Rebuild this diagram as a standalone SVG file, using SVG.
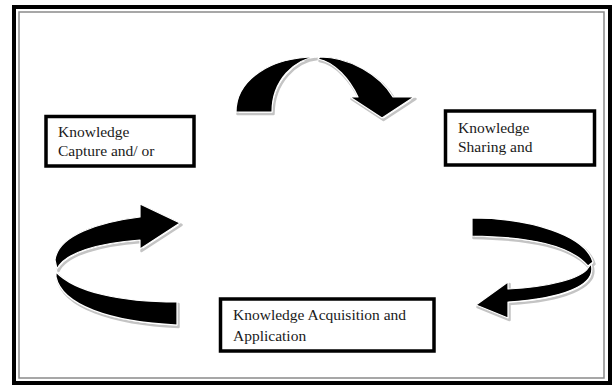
<svg xmlns="http://www.w3.org/2000/svg" width="614" height="385" viewBox="0 0 614 385">
<style>
  .box { fill: #fff; stroke: #000; stroke-width: 3.5; }
  .lbl { font-family: "Liberation Serif", "Times New Roman", serif; font-size: 15.5px; fill: #1a1a1a; }
  .shadow { fill: none; stroke: #c4c4c4; stroke-width: 2.5; stroke-linejoin: round; }
  .arrow { fill: #000; stroke: #fff; stroke-width: 1.2; stroke-linejoin: round; }
</style>
<defs>
  <path id="topL" d="M 236 112 C 236 80, 270 57, 316 57 C 295 59, 272 80, 272 112 Z"/>
  <path id="topR" d="M 320 57 C 350 57, 380 75, 393 97 L 414 97 L 382 118 L 350 97 L 358 97 C 350 80, 335 62, 318 59 Z"/>
  <path id="leftU" d="M 55 260 C 58 235, 100 222, 140 217 L 140 204 L 180 223 L 140 249 L 140 240 C 100 243, 65 252, 57 269 Z"/>
  <path id="leftD" d="M 56 272 C 75 292, 120 302, 177 302 L 177 325 C 110 322, 62 305, 56 277 Z"/>
  <path id="rightU" d="M 472 218 C 530 218, 585 235, 593 262 L 588 266 C 570 245, 530 237, 472 236 Z"/>
  <path id="rightD" d="M 591 264 C 598 286, 560 299, 508 302 L 508 318 L 476 305 L 508 282 L 508 289 C 550 287, 582 278, 588 268 Z"/>
</defs>
<rect x="0" y="0" width="614" height="385" fill="#fff"/>
<rect x="14" y="7" width="596" height="376" fill="none" stroke="#000" stroke-width="4"/>
<rect x="19" y="12" width="585" height="366" fill="none" stroke="#8a8a8a" stroke-width="1.5"/>
<g id="connectors">
  <g transform="translate(1.5,2)">
    <use href="#topL" class="shadow"/><use href="#topR" class="shadow"/>
    <use href="#leftU" class="shadow"/><use href="#leftD" class="shadow"/>
    <use href="#rightU" class="shadow"/><use href="#rightD" class="shadow"/>
  </g>
  <use href="#topL" class="arrow"/><use href="#topR" class="arrow"/>
  <use href="#leftU" class="arrow"/><use href="#leftD" class="arrow"/>
  <use href="#rightU" class="arrow"/><use href="#rightD" class="arrow"/>
</g>
<g id="node-capture">
  <rect class="box" x="46" y="116.5" width="148" height="49.5"/>
  <text class="lbl" x="58" y="137">Knowledge</text>
  <text class="lbl" x="58" y="156">Capture and/ or</text>
</g>
<g id="node-sharing">
  <rect class="box" x="445.5" y="111" width="149" height="54"/>
  <text class="lbl" x="458" y="133">Knowledge</text>
  <text class="lbl" x="458" y="152">Sharing and</text>
</g>
<g id="node-acquisition">
  <rect class="box" x="220.5" y="299" width="213.5" height="52"/>
  <text class="lbl" x="233" y="320">Knowledge Acquisition and</text>
  <text class="lbl" x="233" y="341">Application</text>
</g>
</svg>
